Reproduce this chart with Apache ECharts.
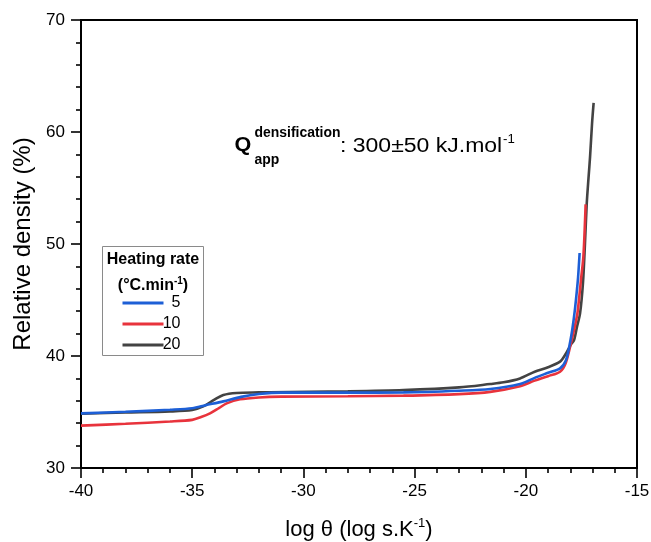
<!DOCTYPE html>
<html>
<head>
<meta charset="utf-8">
<script src="https://cdn.jsdelivr.net/npm/echarts/dist/echarts.min.js"></script>
<style>
  html, body { margin: 0; padding: 0; background: #fff; }
  #chart { width: 651px; height: 542px; }
</style>
</head>
<body>
<div id="chart"></div>
<script>
// Master sintering curves: relative density vs log(theta) for three heating rates
const FONT = '"Liberation Sans", Arial, Helvetica, sans-serif';

const rateLabels = ['5', '10', '20'];
const rateColors = ['#1d5fd6', '#e8333c', '#434343'];

const logTheta5 = [-40, -38, -36, -35, -34.4, -33.6, -32.8, -32, -31, -28, -25.5, -23, -21.6, -20.26, -19.6, -19, -18.46, -18.2, -18.03, -17.9, -17.8, -17.72, -17.65, -17.58];
const density5  = [34.88, 35.02, 35.2, 35.33, 35.6, 35.95, 36.35, 36.6, 36.73, 36.73, 36.75, 36.9, 37.05, 37.5, 38.05, 38.5, 38.9, 39.6, 41.0, 42.5, 44.0, 45.5, 47.0, 49.2];

const logTheta10 = [-40, -38, -36, -35, -34.6, -34.2, -33.8, -33.45, -32.85, -32, -31, -28, -25.5, -23, -21.6, -20.26, -19.6, -19, -18.46, -18.2, -17.94, -17.8, -17.68, -17.6, -17.52, -17.41, -17.31];
const density10  = [33.78, 33.95, 34.15, 34.3, 34.55, 34.88, 35.35, 35.77, 36.13, 36.3, 36.37, 36.4, 36.46, 36.6, 36.8, 37.3, 37.8, 38.2, 38.6, 39.4, 41.4, 42.6, 43.8, 45.2, 46.8, 48.9, 53.54];

const logTheta20 = [-40, -38, -36, -35, -34.5, -34, -33.6, -33, -32, -31.5, -28, -25.5, -23, -21.6, -21, -20.26, -19.6, -19, -18.46, -18.2, -17.98, -17.83, -17.7, -17.56, -17.43, -17.34, -17.26, -17.18, -17.11, -17.02, -16.95];
const density20  = [34.85, 34.95, 35.05, 35.18, 35.5, 36.1, 36.52, 36.7, 36.75, 36.76, 36.85, 36.96, 37.2, 37.5, 37.65, 38.0, 38.6, 39.0, 39.5, 40.2, 41.0, 41.43, 42.6, 43.8, 46.5, 50.0, 53.6, 55.9, 57.8, 60.8, 62.6];

const xTicks = { min: -40, max: -15, interval: 5 };
const yTicks = { min: 30, max: 70, interval: 10 };

function pairs(xs, ys) {
  return xs.map((x, i) => [x, ys[i]]);
}

function curve(name, xs, ys, color) {
  return {
    name: name,
    type: 'line',
    data: pairs(xs, ys),
    symbol: 'none',
    showSymbol: false,
    smooth: 0.3,
    lineStyle: { color: color, width: 2.6 },
    itemStyle: { color: color },
    animation: false
  };
}

function label(x, y, text, size, weight, extra) {
  return Object.assign({
    type: 'text', z: 10, x: x, y: y,
    style: {
      text: text, fontSize: size, fontWeight: weight, fontFamily: FONT,
      fill: '#000', align: 'left', verticalAlign: 'middle'
    }
  }, extra || {});
}

const chart = echarts.init(document.getElementById('chart'), null, { renderer: 'canvas' });

const tickStyle = { color: '#000', width: 1.6 };

const legendTitle = label(153, 260, 'Heating rate', 16, 'bold');
legendTitle.style.align = 'center';
const legendUnit = label(153, 286, '(°C.min{s|-1})', 16, 'bold');
legendUnit.style.align = 'center';
legendUnit.style.rich = { s: { fontSize: 10, fontWeight: 'bold', fontFamily: FONT, fill: '#000', padding: [0, 0, 10, 0] } };

chart.setOption({
  backgroundColor: '#fff',
  animation: false,
  grid: {
    left: 81, right: 14, top: 20, bottom: 74,
    outerBoundsMode: 'none',
    containLabel: false,
    show: true, borderColor: '#000', borderWidth: 2, backgroundColor: 'transparent'
  },
  xAxis: {
    type: 'value',
    min: xTicks.min, max: xTicks.max, interval: xTicks.interval,
    name: 'log θ (log s.K{sup|-1})',
    nameLocation: 'middle',
    nameGap: 49,
    nameTextStyle: {
      fontFamily: FONT, fontSize: 22, color: '#000',
      rich: { sup: { fontFamily: FONT, fontSize: 13, color: '#000', padding: [0, 0, 12, 0] } }
    },
    axisLine: { show: true, lineStyle: { color: '#000', width: 2 } },
    axisTick: { show: true, inside: false, length: 10, lineStyle: tickStyle },
    minorTick: { show: true, splitNumber: 5, length: 5, lineStyle: tickStyle },
    splitLine: { show: false },
    axisLabel: { fontFamily: FONT, fontSize: 17, color: '#000', margin: 15 }
  },
  yAxis: {
    type: 'value',
    min: yTicks.min, max: yTicks.max, interval: yTicks.interval,
    name: 'Relative density (%)',
    nameLocation: 'middle',
    nameGap: 44,
    nameTextStyle: { fontFamily: FONT, fontSize: 24, color: '#000' },
    axisLine: { show: true, lineStyle: { color: '#000', width: 2 } },
    axisTick: { show: true, inside: false, length: 10, lineStyle: tickStyle },
    minorTick: { show: true, splitNumber: 5, length: 5, lineStyle: tickStyle },
    splitLine: { show: false },
    axisLabel: { fontFamily: FONT, fontSize: 17, color: '#000', margin: 16 }
  },
  legend: {
    data: rateLabels,
    orient: 'vertical',
    left: 121,
    top: 295,
    itemWidth: 41,
    itemHeight: 14,
    itemGap: 5,
    padding: 0,
    selectedMode: false,
    itemStyle: { opacity: 0 },
    lineStyle: { width: 3 },
    formatter: '{n|{name}}',
    textStyle: {
      fontFamily: FONT, fontSize: 16, color: '#000', lineHeight: 14,
      rich: { n: { fontFamily: FONT, fontSize: 16, color: '#000', width: 12, lineHeight: 14, align: 'right' } }
    }
  },
  graphic: [
    {
      type: 'rect', z: 0,
      shape: { x: 102.5, y: 246.5, width: 101, height: 109 },
      style: { fill: '#fff', stroke: '#8a8a8a', lineWidth: 1 }
    },
    legendTitle,
    legendUnit,
    label(234.5, 145, 'Q', 20, 'bold', { scaleX: 1.08 }),
    label(254.5, 133, 'densification', 15, 'bold', { scaleX: 0.93 }),
    label(254.5, 159.5, 'app', 15, 'bold', { scaleX: 0.93 }),
    label(340, 146, ': 300±50 kJ.mol', 20, 'normal', { scaleX: 1.15 }),
    label(503, 139.5, '-1', 12, 'normal', { scaleX: 1.1 })
  ],
  series: [
    curve(rateLabels[2], logTheta20, density20, rateColors[2]),
    curve(rateLabels[1], logTheta10, density10, rateColors[1]),
    curve(rateLabels[0], logTheta5, density5, rateColors[0])
  ]
});
</script>
</body>
</html>
